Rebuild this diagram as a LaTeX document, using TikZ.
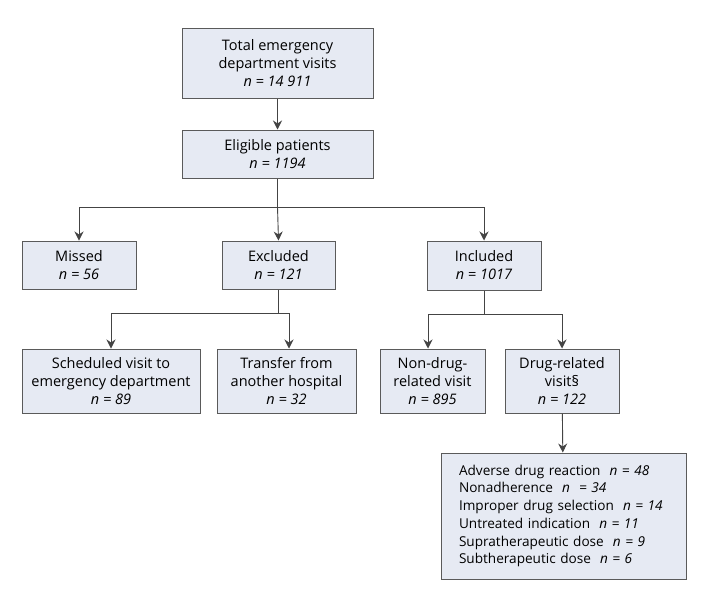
\documentclass[tikz,border=0pt]{standalone}
\usepackage{fontspec}
\setmainfont{Open Sans}
\usetikzlibrary{arrows.meta}
\definecolor{boxfill}{HTML}{E6EAF3}
\definecolor{boxline}{HTML}{5A5A5A}
\definecolor{conn}{HTML}{444444}
\tikzset{
  box/.style={draw=boxline, line width=1pt, fill=boxfill, align=center, inner sep=2pt, font=\fontsize{14.5}{18}\selectfont},
  conn/.style={draw=conn, line width=0.9pt},
  arr/.style={conn, -{Stealth[length=9pt,width=9pt,inset=3pt]}},
}
\newcommand{\nn}[1]{\textit{n = #1}}
\newcommand{\ind}{\hspace*{10pt}}
\begin{document}
\begin{tikzpicture}[x=1pt,y=-1pt]
\useasboundingbox[fill=white] (0,0) rectangle (712,598);
\node[box, minimum width=191pt, minimum height=70pt] (total) at (277.5,63) {Total emergency\\department visits\\\nn{14 911}};
\node[box, minimum width=191pt, minimum height=48pt] (elig) at (277.5,154) {Eligible patients\\\nn{1194}};
\node[box, minimum width=114pt, minimum height=48pt] (missed) at (79,265) {Missed\\\nn{56}};
\node[box, minimum width=113pt, minimum height=48pt] (excl) at (278.5,265) {Excluded\\\nn{121}};
\node[box, minimum width=114pt, minimum height=49pt] (incl) at (484,265.5) {Included\\\nn{1017}};
\node[box, minimum width=178pt, minimum height=64pt] (sched) at (111,381) {Scheduled visit to\\emergency department\\\nn{89}};
\node[box, minimum width=139pt, minimum height=64pt] (trans) at (286.5,381) {Transfer from\\another hospital\\\nn{32}};
\node[box, minimum width=105pt, minimum height=64pt] (nondrug) at (432.5,381) {Non-drug-\\related visit\\\nn{895}};
\node[box, minimum width=114pt, minimum height=64pt] (drug) at (562,381) {Drug-related\\visit§\\\nn{122}};
\node[box, minimum width=245pt, minimum height=126pt, align=left, text width=229pt, inner xsep=8pt, font=\fontsize{13.6}{17.7}\selectfont] (types) at (563.5,516) {%
\ind Adverse drug reaction \ \nn{48}\\
\ind Nonadherence \ \textit{n \ = 34}\\
\ind Improper drug selection \ \nn{14}\\
\ind Untreated indication \ \nn{11}\\
\ind Supratherapeutic dose \ \nn{9}\\
\ind Subtherapeutic dose \ \nn{6}};
\coordinate (b1) at (277.5,207);
\coordinate (b2) at (278.5,313);
\coordinate (b3) at (484,314);
\draw[arr] (total) -- (elig);
\draw[conn] (elig.south) -- (b1);
\draw[arr] (b1) -| (missed.north);
\draw[arr] (b1) -- (excl.north);
\draw[arr] (b1) -| (incl.north);
\draw[conn] (excl.south) -- (b2);
\draw[arr] (b2) -| (sched.north);
\draw[arr] (b2) -| ([xshift=2.5pt]trans.north);
\draw[conn] (incl.south) -- (b3);
\draw[arr] (b3) -| ([xshift=-4.5pt]nondrug.north);
\draw[arr] (b3) -| (drug.north);
\draw[arr] (drug) -- (types);
\end{tikzpicture}
\end{document}
